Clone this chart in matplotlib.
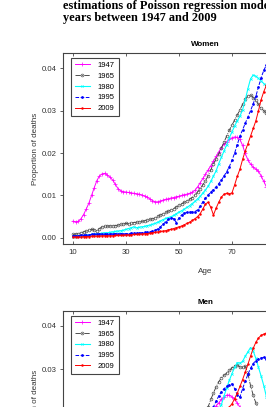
import numpy as np
import matplotlib
matplotlib.use("Agg")
import matplotlib.pyplot as plt

plt.rcParams['font.family'] = ['Liberation Sans', 'DejaVu Sans']

# ---------------- data ----------------
ages_w = list(range(10, 85))
w1947 = [.0039, .0038, .0039, .0045, .0055, .0068, .0082, .0100, .0118, .0135,
         .0146, .0151, .0152, .0148, .0143, .0136, .0126, .0116, .0111, .0109,
         .0108, .0107, .0106, .0105, .0104, .0103, .0101, .0099, .0096, .0092,
         .0088, .0085, .0085, .0087, .0089, .0091, .0092, .0094, .0095, .0097,
         .0098, .0100, .0102, .0103, .0105, .0108, .0112, .0120, .0130, .0140,
         .0150, .0160, .0170, .0181, .0192, .0203, .0213, .0221, .0227, .0232,
         .0236, .0238, .0237, .0232, .0218, .0199, .0184, .0174, .0167, .0162,
         .0157, .0146, .0133, .0120, .0108]
w1965 = [.0008, .0009, .0010, .0012, .0014, .0016, .0018, .0020, .0019, .0017,
         .0022, .0026, .0027, .0028, .0028, .0029, .0029, .0030, .0032, .0033,
         .0034, .0033, .0035, .0036, .0037, .0038, .0039, .0040, .0042, .0044,
         .0045, .0047, .0051, .0054, .0057, .0060, .0063, .0066, .0069, .0073,
         .0077, .0080, .0084, .0087, .0091, .0095, .0101, .0108, .0116, .0125,
         .0135, .0146, .0160, .0174, .0186, .0198, .0212, .0226, .0240, .0254,
         .0266, .0278, .0290, .0302, .0315, .0328, .0335, .0337, .0331, .0324,
         .0315, .0306, .0300, .0294, .0288]
w1980 = [.0003, .0003, .0004, .0004, .0005, .0006, .0007, .0008, .0009, .0009,
         .0010, .0011, .0012, .0012, .0013, .0014, .0015, .0016, .0017, .0018,
         .0020, .0022, .0024, .0026, .0024, .0025, .0026, .0027, .0029, .0030,
         .0032, .0034, .0037, .0040, .0043, .0046, .0048, .0050, .0053, .0057,
         .0061, .0064, .0068, .0072, .0076, .0081, .0086, .0092, .0098, .0106,
         .0113, .0122, .0133, .0146, .0158, .0175, .0190, .0205, .0220, .0236,
         .0250, .0264, .0276, .0287, .0302, .0325, .0352, .0375, .0384, .0381,
         .0376, .0370, .0364, .0358, .0352]
w1995 = [.0005, .0005, .0005, .0006, .0006, .0007, .0007, .0008, .0008, .0009,
         .0009, .0009, .0009, .0009, .0009, .0010, .0010, .0010, .0010, .0010,
         .0010, .0010, .0011, .0011, .0011, .0012, .0012, .0013, .0013, .0014,
         .0016, .0018, .0021, .0026, .0032, .0038, .0044, .0048, .0045, .0036,
         .0047, .0054, .0058, .0060, .0061, .0061, .0062, .0066, .0074, .0085,
         .0094, .0101, .0108, .0114, .0120, .0128, .0136, .0146, .0156, .0168,
         .0183, .0200, .0220, .0240, .0255, .0270, .0285, .0300, .0316, .0334,
         .0356, .0378, .0395, .0408, .0420]
w2009 = [.0002, .0002, .0002, .0002, .0003, .0003, .0003, .0004, .0004, .0004,
         .0004, .0005, .0005, .0005, .0005, .0005, .0006, .0006, .0006, .0006,
         .0007, .0007, .0007, .0008, .0008, .0009, .0009, .0010, .0010, .0011,
         .0012, .0013, .0014, .0015, .0016, .0017, .0019, .0020, .0022, .0024,
         .0026, .0028, .0031, .0034, .0037, .0041, .0045, .0050, .0057, .0068,
         .0080, .0084, .0072, .0054, .0070, .0084, .0096, .0103, .0105, .0104,
         .0106, .0125, .0145, .0162, .0185, .0205, .0222, .0240, .0258, .0276,
         .0300, .0326, .0345, .0360, .0375]

ages_m = list(range(55, 85))
m1947 = [.0150, .0160, .0170, .0180, .0188, .0195, .0201, .0206, .0210, .0215,
         .0222, .0230, .0236, .0240, .0240, .0236, .0230, .0222, .0212, .0200,
         .0188, .0178, .0168, .0160, .0152, .0145, .0138, .0130, .0122, .0115]
m1965 = [.0150, .0158, .0167, .0177, .0188, .0200, .0213, .0230, .0245, .0259,
         .0271, .0280, .0286, .0291, .0297, .0303, .0308, .0310, .0305, .0304,
         .0307, .0290, .0262, .0240, .0222, .0208, .0196, .0186, .0178, .0170]
m1980 = [.0120, .0128, .0136, .0145, .0154, .0163, .0172, .0181, .0190, .0199,
         .0207, .0218, .0238, .0257, .0274, .0290, .0304, .0315, .0314, .0318,
         .0330, .0340, .0350, .0342, .0325, .0304, .0284, .0262, .0236, .0215]
m1995 = [.0130, .0138, .0146, .0155, .0165, .0176, .0188, .0200, .0213, .0226,
         .0238, .0248, .0255, .0260, .0264, .0266, .0255, .0240, .0236, .0255,
         .0272, .0288, .0302, .0313, .0320, .0324, .0326, .0327, .0324, .0320]
m2009 = [.0095, .0102, .0110, .0118, .0127, .0137, .0147, .0157, .0166, .0175,
         .0184, .0192, .0199, .0206, .0213, .0220, .0232, .0245, .0260, .0276,
         .0293, .0311, .0330, .0348, .0362, .0372, .0378, .0381, .0383, .0385]

years = ["1947", "1965", "1980", "1995", "2009"]
xticks = [10, 30, 50, 70]
yticks_w = [0.00, 0.01, 0.02, 0.03, 0.04]
yticks_m = [0.03, 0.04]

styles = {
    "1947": dict(color="#ff00ff", ls="-", marker="+", ms=2.2, mew=0.5, lw=0.7),
    "1965": dict(color="#333333", ls="-.", marker="o", ms=2.0, mfc="none",
                 mec="#555555", mew=0.5, lw=0.6),
    "1980": dict(color="#00ffff", ls="-", marker="x", ms=1.6, mew=0.5, lw=0.8),
    "1995": dict(color="#0000ff", ls="--", marker="o", ms=2.0, mew=0, lw=0.7),
    "2009": dict(color="#ff0000", ls="-", marker="o", ms=1.8, mew=0, lw=0.7),
}

W, H = 266, 407
fig = plt.figure(figsize=(W / 100, H / 100), dpi=100)

def px_axes(left, top, width, height):
    return fig.add_axes([left / W, 1 - (top + height) / H, width / W, height / H])

def style_axes(ax, title, ylim, yticks, show_x):
    ax.set_xlim(6.23, 113.4)
    ax.set_ylim(*ylim)
    ax.set_xticks(xticks)
    ax.set_yticks(yticks)
    ax.set_yticklabels(["%.2f" % v for v in yticks])
    for s in ax.spines.values():
        s.set_color("#444444")
        s.set_linewidth(0.8)
    ax.tick_params(axis="y", direction="out", length=2.5, width=0.6,
                   colors="#444444", labelsize=5.6, labelcolor="#333333", pad=2)
    ax.tick_params(axis="x", direction="in", length=2.5, width=0.6, top=True,
                   colors="#444444", labelsize=5.6, labelcolor="#333333", pad=3.5,
                   labelbottom=show_x)
    ax.set_title(title, fontsize=5.8, fontweight="bold", pad=5)
    ax.set_ylabel("Proportion of deaths", fontsize=5.8, color="#333333")
    ax.yaxis.set_label_coords(-0.086, 0.5)
    if show_x:
        ax.set_xlabel("Age", fontsize=5.8, color="#333333")
        ax.xaxis.set_label_coords(0.5, -0.125)

def add_legend(ax):
    ax.legend(loc="upper left", bbox_to_anchor=(0.028, 0.974), fontsize=5.5,
              frameon=True, fancybox=False, edgecolor="#444444",
              borderpad=0.5, labelspacing=0.45, handlelength=2.0,
              handletextpad=1.0, borderaxespad=0, framealpha=1)
    ax.get_legend().get_frame().set_linewidth(0.8)

axw = px_axes(63, 53, 284, 191)
for y, vals in zip(years, [w1947, w1965, w1980, w1995, w2009]):
    axw.plot(ages_w, vals, label=y, **styles[y])
style_axes(axw, "Women", (-0.00145, 0.0436), yticks_w, True)
add_legend(axw)

axm = px_axes(63, 310.7, 284, 191)
for y, vals in zip(years, [m1947, m1965, m1980, m1995, m2009]):
    axm.plot(ages_m, vals, label=y, **styles[y])
style_axes(axm, "Men", (-0.0006, 0.0435), yticks_m, False)
add_legend(axm)

fig.text(63 / W, 1 - 8.5 / H, "estimations of Poisson regression models in",
         family="Liberation Serif", fontweight="bold", fontsize=8.9,
         ha="left", va="baseline")
fig.text(63 / W, 1 - 21.5 / H, "years between 1947 and 2009",
         family="Liberation Serif", fontweight="bold", fontsize=8.9,
         ha="left", va="baseline")

fig.savefig("out.png", dpi=100)
